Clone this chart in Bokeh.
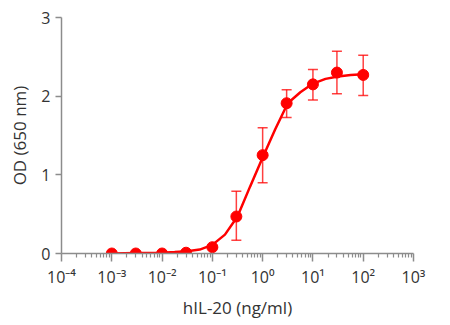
from bokeh.plotting import figure
from bokeh.models import ColumnDataSource, Whisker, TeeHead, CustomJSTickFormatter, FixedTicker
from bokeh.embed import file_html
from bokeh.resources import INLINE

# Data points (ng/ml, OD)
conc = [0.001, 0.003, 0.01, 0.03, 0.1, 0.3, 1, 3, 10, 30, 100]
od = [0.0, 0.0, 0.0, 0.01, 0.08, 0.47, 1.25, 1.91, 2.15, 2.30, 2.27]
od_upper = [0.01, 0.01, 0.01, 0.02, 0.09, 0.79, 1.60, 2.08, 2.34, 2.57, 2.52]
od_lower = [0.0, 0.0, 0.0, 0.0, 0.07, 0.17, 0.90, 1.73, 1.95, 2.03, 2.01]

# Fitted curve
curve_x = [0.001, 0.00316, 0.01, 0.0178, 0.0316, 0.0562, 0.1, 0.178, 0.316, 0.562,
           1.0, 1.78, 3.16, 5.62, 10, 17.8, 31.6, 56.2, 100]
curve_y = [0.0, 0.005, 0.01, 0.02, 0.03, 0.05, 0.11, 0.24, 0.47, 0.85,
           1.22, 1.58, 1.91, 2.05, 2.16, 2.22, 2.25, 2.27, 2.28]

x_ticks = [1e-4, 1e-3, 1e-2, 1e-1, 1, 10, 100, 1000]
y_ticks = [0, 1, 2, 3]

x_label = "hIL-20 (ng/ml)"
y_label = "OD (650 nm)"

RED = "#ff0000"
AXIS = "#8c8c8c"
TEXT = "#333333"
FONT = "Open Sans"

p = figure(width=450, height=325, x_axis_type="log", x_range=(1e-4, 1e3), y_range=(0, 3),
           output_backend="svg", toolbar_location=None)
p.min_border_left = 61
p.min_border_right = 37
p.min_border_top = 17
p.min_border_bottom = 72
p.outline_line_color = None
p.grid.visible = False
p.background_fill_color = "white"
p.border_fill_color = "white"

src = ColumnDataSource(dict(x=conc, y=od, upper=od_upper, lower=od_lower))
p.line(curve_x, curve_y, line_color=RED, line_width=2.5)
w = Whisker(source=src, base="x", upper="upper", lower="lower", line_color=RED, line_alpha=0.75,
            line_width=1.5,
            upper_head=TeeHead(size=10, line_color=RED, line_alpha=0.75, line_width=1.5),
            lower_head=TeeHead(size=10, line_color=RED, line_alpha=0.75, line_width=1.5))
p.add_layout(w)
p.scatter("x", "y", source=src, size=11, fill_color=RED, line_color=RED)

# x axis
xa = p.xaxis[0]
xa.ticker = FixedTicker(ticks=x_ticks,
                        minor_ticks=[m * 10.0 ** e for e in range(-4, 3) for m in range(2, 10)])
xa.formatter = CustomJSTickFormatter(code="""
const sup = {'-':'\u207b','0':'\u2070','1':'\u00b9','2':'\u00b2','3':'\u00b3','4':'\u2074','5':'\u2075','6':'\u2076','7':'\u2077','8':'\u2078','9':'\u2079'};
const e = Math.round(Math.log10(tick));
return '10' + String(e).split('').map(c => sup[c]).join('');
""")
xa.axis_label = x_label
xa.major_tick_in = 0
xa.major_tick_out = 8
xa.minor_tick_in = 0
xa.minor_tick_out = 4

ya = p.yaxis[0]
ya.ticker = FixedTicker(ticks=y_ticks)
ya.axis_label = y_label
ya.major_tick_in = 0
ya.major_tick_out = 6
ya.minor_tick_out = 0
ya.minor_tick_in = 0

for ax in (xa, ya):
    ax.axis_line_color = AXIS
    ax.axis_line_width = 1.5
    ax.major_tick_line_color = AXIS
    ax.major_tick_line_width = 1.5
    ax.minor_tick_line_color = AXIS
    ax.minor_tick_line_width = 1.2
    ax.major_label_text_font = FONT
    ax.major_label_text_font_size = "16px"
    ax.major_label_text_color = TEXT
    ax.axis_label_text_font = FONT
    ax.axis_label_text_font_size = "17px"
    ax.axis_label_text_font_style = "normal"
    ax.axis_label_text_color = TEXT
xa.major_label_standoff = 4
xa.axis_label_standoff = 5
ya.major_label_standoff = 5
ya.axis_label_standoff = 7

open("out.html", "w").write(file_html(p, INLINE))
